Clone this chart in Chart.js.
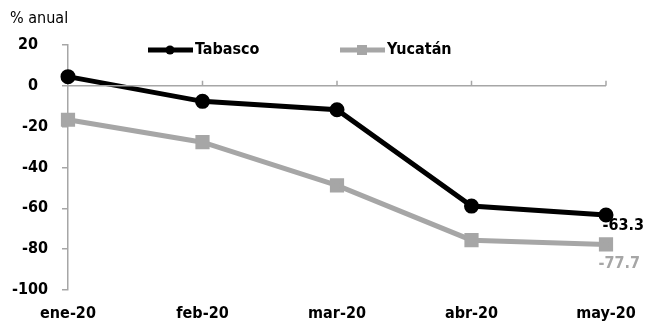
<!DOCTYPE html>
<html>
<head>
<meta charset="utf-8">
<script src="https://cdn.jsdelivr.net/npm/chart.js@4"></script>
<style>
  body { margin: 0; background: #fff; }
  #wrap { position: relative; width: 645px; height: 327px; }
  #unit { position: absolute; left: 10px; top: 8px; font: 16px "Liberation Sans Narrow", "DejaVu Sans Condensed", sans-serif; color: #000; }
</style>
</head>
<body>
<div id="wrap">
  <canvas id="c" width="645" height="327"></canvas>
  <div id="unit">% anual</div>
</div>
<script>
// datos
const meses = ['ene-20', 'feb-20', 'mar-20', 'abr-20', 'may-20'];
const tabasco = [4.5, -7.6, -11.7, -58.9, -63.3];
const yucatan = [-16.6, -27.6, -48.8, -75.6, -77.7];
const yTicks = [20, 0, -20, -40, -60, -80, -100];

const FONT = '"DejaVu Sans Condensed", sans-serif';
const GRIS = '#a6a6a6';

// eje en cero, leyenda y etiquetas finales
const extras = {
  id: 'extras',
  afterDatasetsDraw(chart) {
    const ctx = chart.ctx;
    const x = chart.scales.x, y = chart.scales.y;
    const y0 = y.getPixelForValue(0);
    ctx.save();
    ctx.strokeStyle = GRIS;
    ctx.lineWidth = 1.5;
    ctx.beginPath();
    ctx.moveTo(x.left, y0);
    ctx.lineTo(x.right, y0);
    for (let i = 1; i < meses.length; i++) {
      const px = x.getPixelForValue(i);
      ctx.moveTo(px, y0);
      ctx.lineTo(px, y0 - 5);
    }
    ctx.stroke();
    ctx.restore();
  },
  afterDraw(chart) {
    const ctx = chart.ctx;
    const x = chart.scales.x, y = chart.scales.y;
    ctx.save();
    // leyenda
    const items = [
      { label: 'Tabasco', color: '#000', x: 148, shape: 'circle' },
      { label: 'Yucatán', color: GRIS, x: 340, shape: 'square' }
    ];
    ctx.font = 'bold 16px ' + FONT;
    ctx.textBaseline = 'middle';
    items.forEach(it => {
      const ly = 50;
      ctx.strokeStyle = it.color;
      ctx.fillStyle = it.color;
      ctx.lineWidth = 5;
      ctx.beginPath();
      ctx.moveTo(it.x, ly);
      ctx.lineTo(it.x + 45, ly);
      ctx.stroke();
      if (it.shape === 'circle') {
        ctx.beginPath();
        ctx.arc(it.x + 22, ly, 4.5, 0, Math.PI * 2);
        ctx.fill();
      } else {
        ctx.fillRect(it.x + 17, ly - 5, 10, 10);
      }
      ctx.fillStyle = '#000';
      ctx.fillText(it.label, it.x + 47, ly);
    });
    // etiquetas del último dato
    const n = meses.length - 1;
    const px = x.getPixelForValue(n);
    ctx.textAlign = 'right';
    ctx.fillStyle = '#000';
    ctx.fillText(tabasco[n].toFixed(1), px + 38, y.getPixelForValue(tabasco[n]) + 11);
    ctx.fillStyle = GRIS;
    ctx.fillText(yucatan[n].toFixed(1), px + 34, y.getPixelForValue(yucatan[n]) + 19);
    ctx.restore();
  }
};

new Chart(document.getElementById('c'), {
  type: 'line',
  data: {
    labels: meses,
    datasets: [
      {
        label: 'Tabasco',
        data: tabasco,
        borderColor: '#000',
        backgroundColor: '#000',
        borderWidth: 5,
        pointStyle: 'circle',
        pointRadius: 5,
        tension: 0
      },
      {
        label: 'Yucatán',
        data: yucatan,
        borderColor: GRIS,
        backgroundColor: GRIS,
        borderWidth: 5,
        pointStyle: 'rect',
        pointRadius: 6.5,
        tension: 0
      }
    ]
  },
  options: {
    responsive: false,
    animation: false,
    clip: false,
    layout: { padding: { top: 45, right: 39, left: 0, bottom: 0 } },
    plugins: { legend: { display: false }, tooltip: { enabled: false } },
    scales: {
      x: {
        offset: false,
        grid: { display: false, drawTicks: false },
        border: { display: false },
        ticks: { color: '#000', font: { family: FONT, size: 16, weight: 'bold' }, padding: 14, maxRotation: 0, autoSkip: false },
        afterFit(s) { s.height = 37; s.paddingLeft = 0; s.paddingRight = 0; }
      },
      y: {
        min: -100,
        max: 20,
        afterBuildTicks(s) { s.ticks = yTicks.map(v => ({ value: v })); },
        grid: { drawOnChartArea: false, color: GRIS, tickLength: 6, lineWidth: 1.5 },
        border: { color: GRIS, width: 1.5 },
        ticks: {
          color: '#000',
          font: { family: FONT, size: 16, weight: 'bold' },
          padding: 14,
          callback: v => v >= 0 ? v + '\u2007' : String(v)
        },
        afterFit(s) { s.width = 68; }
      }
    }
  },
  plugins: [extras]
});
</script>
</body>
</html>
